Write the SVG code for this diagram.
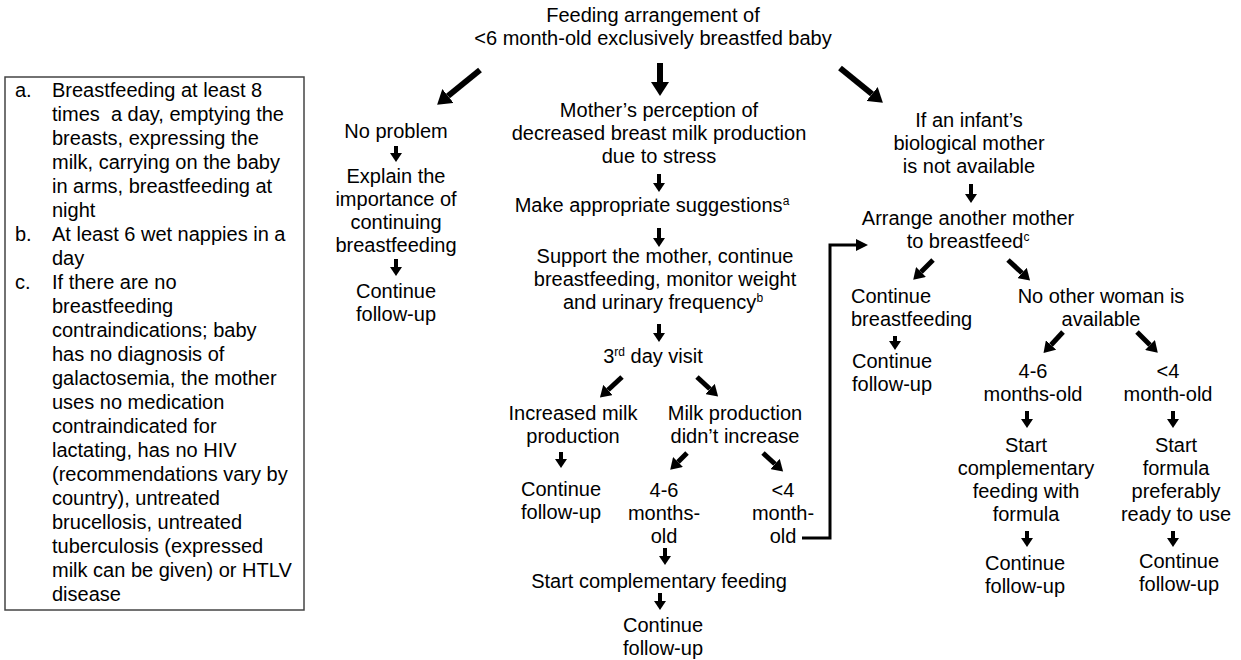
<svg xmlns="http://www.w3.org/2000/svg" width="1241" height="660" viewBox="0 0 1241 660">
<style>
text{font-family:"Liberation Sans",Arial,sans-serif;font-size:20px;fill:#000}
.c{text-anchor:middle}
.sup{font-size:12px}
.s{stroke:#000;stroke-width:4;fill:none;marker-end:url(#hs)}
.m{stroke:#000;stroke-width:5;fill:none;marker-end:url(#hm)}
.l{stroke:#000;stroke-width:6;fill:none;marker-end:url(#hl)}
.k{stroke:#000;stroke-width:3;fill:none;marker-end:url(#hk)}
</style>
<defs>
<marker id="hs" markerUnits="userSpaceOnUse" markerWidth="10" markerHeight="12" refX="0" refY="6" orient="auto"><path d="M0,0 L9,6 L0,12 z" fill="#000"/></marker>
<marker id="hm" markerUnits="userSpaceOnUse" markerWidth="12" markerHeight="14" refX="0" refY="7" orient="auto"><path d="M0,0 L11,7 L0,14 z" fill="#000"/></marker>
<marker id="hl" markerUnits="userSpaceOnUse" markerWidth="15" markerHeight="18" refX="0" refY="9" orient="auto"><path d="M0,0 L14,9 L0,18 z" fill="#000"/></marker>
<marker id="hk" markerUnits="userSpaceOnUse" markerWidth="13" markerHeight="12" refX="0" refY="6" orient="auto"><path d="M0,0 L12,6 L0,12 z" fill="#000"/></marker>
</defs>

<g id="legend">
<rect x="5" y="77" width="299" height="533" fill="#fff" stroke="#444" stroke-width="1.5"/>
<text x="15" y="97">a.</text>
<text x="52" y="97">Breastfeeding at least 8</text>
<text x="52" y="121" xml:space="preserve">times  a day, emptying the</text>
<text x="52" y="145">breasts, expressing the</text>
<text x="52" y="169">milk, carrying on the baby</text>
<text x="52" y="193">in arms, breastfeeding at</text>
<text x="52" y="217">night</text>
<text x="15" y="241">b.</text>
<text x="52" y="241">At least 6 wet nappies in a</text>
<text x="52" y="265">day</text>
<text x="15" y="289">c.</text>
<text x="52" y="289">If there are no</text>
<text x="52" y="313">breastfeeding</text>
<text x="52" y="337">contraindications; baby</text>
<text x="52" y="361">has no diagnosis of</text>
<text x="52" y="385">galactosemia, the mother</text>
<text x="52" y="409">uses no medication</text>
<text x="52" y="433">contraindicated for</text>
<text x="52" y="457">lactating, has no HIV</text>
<text x="52" y="481">(recommendations vary by</text>
<text x="52" y="505">country), untreated</text>
<text x="52" y="529">brucellosis, untreated</text>
<text x="52" y="553">tuberculosis (expressed</text>
<text x="52" y="577">milk can be given) or HTLV</text>
<text x="52" y="601">disease</text>
</g>

<g id="root"><text class="c" x="653" y="22">Feeding arrangement of</text><text class="c" x="653" y="45">&lt;6 month-old exclusively breastfed baby</text></g>

<g id="noproblem"><text class="c" x="396" y="138">No problem</text></g>
<g id="explain"><text class="c" x="396" y="183">Explain the</text><text class="c" x="396" y="206">importance of</text><text class="c" x="396" y="229">continuing</text><text class="c" x="396" y="252">breastfeeding</text></g>
<g id="cont1"><text class="c" x="396" y="298">Continue</text><text class="c" x="396" y="321">follow-up</text></g>

<g id="perception"><text class="c" x="659" y="117">Mother’s perception of</text><text class="c" x="659" y="140">decreased breast milk production</text><text class="c" x="659" y="163">due to stress</text></g>
<g id="suggest"><text class="c" x="652" y="212">Make appropriate suggestions<tspan class="sup" dy="-7">a</tspan></text></g>
<g id="support"><text class="c" x="665" y="263">Support the mother, continue</text><text class="c" x="665" y="286">breastfeeding, monitor weight</text><text class="c" x="663" y="309">and urinary frequency<tspan class="sup" dy="-7">b</tspan></text></g>
<g id="visit"><text class="c" x="653" y="363">3<tspan class="sup" dy="-7">rd</tspan><tspan dy="7"> day visit</tspan></text></g>
<g id="increased"><text class="c" x="573" y="420">Increased milk</text><text class="c" x="573" y="443">production</text></g>
<g id="cont2"><text class="c" x="561" y="496">Continue</text><text class="c" x="561" y="519">follow-up</text></g>
<g id="noincrease"><text class="c" x="735" y="420">Milk production</text><text class="c" x="735" y="443">didn’t increase</text></g>
<g id="m46a"><text class="c" x="664" y="497">4-6</text><text class="c" x="664" y="520">months-</text><text class="c" x="664" y="543">old</text></g>
<g id="m4a"><text class="c" x="783" y="497">&lt;4</text><text class="c" x="783" y="520">month-</text><text class="c" x="783" y="543">old</text></g>
<g id="startcomp"><text class="c" x="659" y="588">Start complementary feeding</text></g>
<g id="cont3"><text class="c" x="663" y="632">Continue</text><text class="c" x="663" y="655">follow-up</text></g>

<g id="notavailable"><text class="c" x="969" y="127">If an infant’s</text><text class="c" x="969" y="150">biological mother</text><text class="c" x="969" y="173">is not available</text></g>
<g id="arrange"><text class="c" x="968" y="225">Arrange another mother</text><text class="c" x="968" y="248">to breastfeed<tspan class="sup" dy="-7">c</tspan></text></g>
<g id="contbf"><text x="851" y="303">Continue</text><text x="851" y="326">breastfeeding</text></g>
<g id="cont4"><text x="852" y="368">Continue</text><text x="852" y="391">follow-up</text></g>
<g id="noother"><text class="c" x="1101" y="303">No other woman is</text><text class="c" x="1101" y="326">available</text></g>
<g id="m46b"><text class="c" x="1033" y="378">4-6</text><text class="c" x="1033" y="401">months-old</text></g>
<g id="m4b"><text class="c" x="1168" y="378">&lt;4</text><text class="c" x="1168" y="401">month-old</text></g>
<g id="startcompf"><text class="c" x="1026" y="452">Start</text><text class="c" x="1026" y="475">complementary</text><text class="c" x="1026" y="498">feeding with</text><text class="c" x="1026" y="521">formula</text></g>
<g id="cont5"><text class="c" x="1025" y="570">Continue</text><text class="c" x="1025" y="593">follow-up</text></g>
<g id="startformula"><text class="c" x="1176" y="452">Start</text><text class="c" x="1176" y="475">formula</text><text class="c" x="1176" y="498">preferably</text><text class="c" x="1176" y="521">ready to use</text></g>
<g id="cont6"><text class="c" x="1179" y="568">Continue</text><text class="c" x="1179" y="591">follow-up</text></g>

<g id="connectors">
<line class="l" x1="480" y1="70" x2="448" y2="96"/>
<line class="l" x1="660" y1="63" x2="660" y2="82"/>
<line class="l" x1="840" y1="68" x2="872" y2="94"/>

<line class="s" x1="396" y1="146" x2="396" y2="153"/>
<line class="s" x1="396" y1="259" x2="396" y2="267"/>
<line class="s" x1="659" y1="174" x2="659" y2="183"/>
<line class="s" x1="659" y1="228" x2="659" y2="238"/>
<line class="s" x1="659" y1="324" x2="659" y2="333"/>
<line class="s" x1="561" y1="452" x2="561" y2="459"/>
<line class="s" x1="665" y1="548" x2="665" y2="556"/>
<line class="s" x1="660" y1="593" x2="660" y2="601"/>
<line class="s" x1="971" y1="184" x2="971" y2="194"/>
<line class="s" x1="895" y1="336" x2="895" y2="341"/>
<line class="s" x1="1027" y1="411" x2="1027" y2="419"/>
<line class="s" x1="1027" y1="531" x2="1027" y2="538"/>
<line class="s" x1="1173" y1="411" x2="1173" y2="419"/>
<line class="s" x1="1173" y1="531" x2="1173" y2="538"/>

<line class="m" x1="622" y1="377" x2="608" y2="390"/>
<line class="m" x1="697" y1="377" x2="710" y2="389"/>
<line class="m" x1="687" y1="453" x2="678" y2="462"/>
<line class="m" x1="763" y1="453" x2="775" y2="464"/>
<line class="m" x1="933" y1="260" x2="921" y2="272"/>
<line class="m" x1="1008" y1="260" x2="1022" y2="273"/>
<line class="m" x1="1063" y1="332" x2="1051" y2="345"/>
<line class="m" x1="1137" y1="332" x2="1150" y2="345"/>

<polyline class="k" points="802,538 830,538 830,245 856,245"/>
</g>
</svg>
